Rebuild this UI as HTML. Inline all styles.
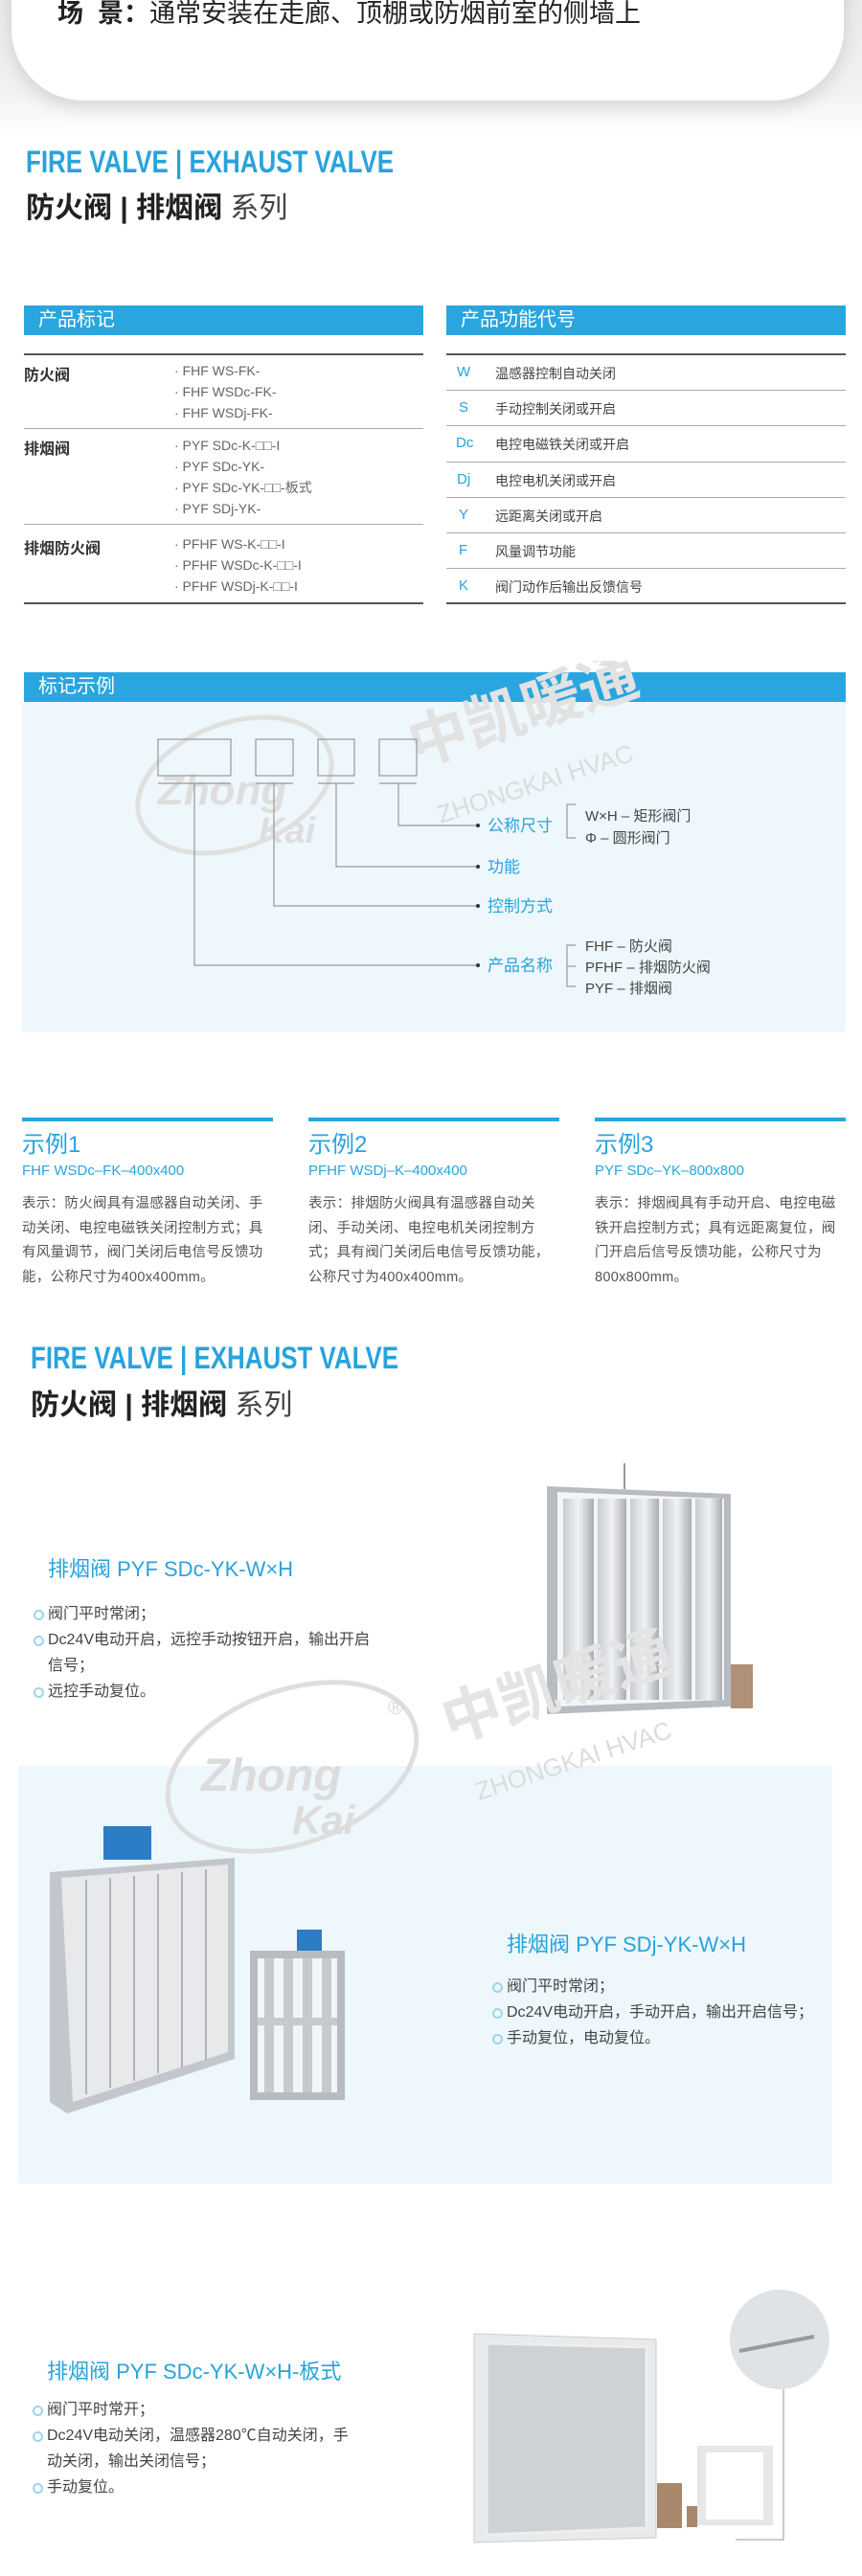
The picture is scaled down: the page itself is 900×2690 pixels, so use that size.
<!DOCTYPE html>
<html><head><meta charset="utf-8"><style>
*{margin:0;padding:0;box-sizing:border-box}
body{width:900px;height:2690px;position:relative;background:#fff;font-family:"Liberation Sans","Noto Sans CJK SC",sans-serif;color:#333;overflow:hidden}
.a{position:absolute;white-space:nowrap}
.t1{font-size:32px;font-weight:bold;color:#29a3dc;transform:scaleX(0.81);transform-origin:left}
.t2{font-size:30px;font-weight:bold;color:#222}
.t2 span{font-weight:normal;color:#444}
.bar{position:absolute;background:#29a6df;color:#fff;font-size:20px;padding-left:15px;line-height:31px;height:31px}
.hl{position:absolute;height:2px;background:#555}
.ln{position:absolute;height:1px;background:#aaa}
.item{font-size:14px;color:#666;line-height:22px}
.lab{font-size:16px;font-weight:bold;color:#333}
.code{font-size:15px;color:#29a3dc}
.desc{font-size:14px;color:#444}
.ex{position:absolute;top:1167px;width:262px;border-top:4px solid #29a6df}
.ex h3{font-weight:normal;font-size:24px;color:#29a3dc;margin-top:10px;line-height:30px}
.ex h4{font-weight:normal;font-size:15px;color:#29a3dc;line-height:20px;margin-top:2px}
.ex p{font-size:14.5px;color:#555;line-height:25.6px;margin-top:12px;white-space:normal;letter-spacing:0.3px}
.pt{font-size:22px;color:#29a3dc}
.bl{font-size:16px;color:#444;line-height:27px}
.dot{display:inline-block;width:11px;height:11px;border:2.5px solid #9fd4ee;border-radius:50%;position:absolute;left:-15px;top:9px}
.bl div{position:relative}
</style></head><body>
<div class="a" style="left:0;top:0;width:900px;height:140px;background:linear-gradient(#e9e9e9,#f2f2f2 70%,#fff)"></div>
<div class="a" style="left:12px;top:-40px;width:869px;height:145px;background:#fff;border-radius:0 0 75px 75px;box-shadow:0 8px 18px rgba(0,0,0,0.12)"></div>
<div class="a" style="left:60px;top:-8px;font-size:27px;color:#222"><b>场 &nbsp;景：</b>通常安装在走廊、顶棚或防烟前室的侧墙上</div>

<div class="a t1" style="left:27px;top:151px">FIRE VALVE | EXHAUST VALVE</div>
<div class="a t2" style="left:27px;top:192px">防火阀 | 排烟阀 <span>系列</span></div>

<div class="bar" style="left:25px;top:319px;width:417px">产品标记</div>
<div class="bar" style="left:466px;top:319px;width:417px">产品功能代号</div>
<div class="hl" style="left:25px;top:369px;width:417px"></div>
<div class="hl" style="left:466px;top:369px;width:417px"></div>
<div class="a lab" style="left:25px;top:378px">防火阀</div>
<div class="a item" style="left:182px;top:376px">· FHF WS-FK-<br>· FHF WSDc-FK-<br>· FHF WSDj-FK-</div>
<div class="ln" style="left:25px;top:447px;width:417px"></div>
<div class="a lab" style="left:25px;top:455px">排烟阀</div>
<div class="a item" style="left:182px;top:454px">· PYF SDc-K-□□-I<br>· PYF SDc-YK-<br>· PYF SDc-YK-□□-板式<br>· PYF SDj-YK-</div>
<div class="ln" style="left:25px;top:547px;width:417px"></div>
<div class="a lab" style="left:25px;top:559px">排烟防火阀</div>
<div class="a item" style="left:182px;top:557px">· PFHF WS-K-□□-I<br>· PFHF WSDc-K-□□-I<br>· PFHF WSDj-K-□□-I</div>
<div class="hl" style="left:25px;top:629px;width:417px"></div>

<div class="ln" style="left:466px;top:407px;width:417px"></div>
<div class="ln" style="left:466px;top:444px;width:417px"></div>
<div class="ln" style="left:466px;top:482px;width:417px"></div>
<div class="ln" style="left:466px;top:519px;width:417px"></div>
<div class="ln" style="left:466px;top:556px;width:417px"></div>
<div class="ln" style="left:466px;top:593px;width:417px"></div>
<div class="hl" style="left:466px;top:629px;width:417px"></div>
<div class="a code" style="left:477px;top:380px">W</div><div class="a desc" style="left:517px;top:380px">温感器控制自动关闭</div>
<div class="a code" style="left:479px;top:417px">S</div><div class="a desc" style="left:517px;top:417px">手动控制关闭或开启</div>
<div class="a code" style="left:476px;top:454px">Dc</div><div class="a desc" style="left:517px;top:454px">电控电磁铁关闭或开启</div>
<div class="a code" style="left:477px;top:492px">Dj</div><div class="a desc" style="left:517px;top:492px">电控电机关闭或开启</div>
<div class="a code" style="left:479px;top:529px">Y</div><div class="a desc" style="left:517px;top:529px">远距离关闭或开启</div>
<div class="a code" style="left:479px;top:566px">F</div><div class="a desc" style="left:517px;top:566px">风量调节功能</div>
<div class="a code" style="left:479px;top:603px">K</div><div class="a desc" style="left:517px;top:603px">阀门动作后输出反馈信号</div>

<div class="bar" style="left:25px;top:702px;width:858px">标记示例</div>
<div class="a" style="left:23px;top:733px;width:860px;height:345px;background:#eef7fc"></div>
<svg class="a" style="left:0;top:690px" width="900" height="400">
<g fill="none" stroke="#e0e0e0" stroke-width="5"><ellipse cx="245" cy="130" rx="105" ry="65" transform="rotate(-20 245 130)"/></g>
<text x="165" y="150" font-size="44" font-style="italic" font-weight="bold" fill="#dedede" font-family="Liberation Sans">Zhong</text>
<text x="270" y="190" font-size="38" font-style="italic" font-weight="bold" fill="#dedede" font-family="Liberation Sans">Kai</text>
<text x="435" y="110" font-size="62" font-weight="bold" fill="#e2e2e2" transform="rotate(-18 435 110)" font-family="Noto Sans CJK SC">中凯暖通</text>
<text x="460" y="170" font-size="26" fill="#dcdcdc" transform="rotate(-18 460 170)" font-family="Liberation Sans">ZHONGKAI HVAC</text>
<g fill="none" stroke="#999" stroke-width="1.2">
<rect x="165" y="82" width="76" height="38"/><rect x="267" y="82" width="39" height="38"/><rect x="332" y="82" width="38" height="38"/><rect x="396" y="82" width="39" height="38"/>
<line x1="165" y1="128" x2="241" y2="128"/><line x1="267" y1="128" x2="306" y2="128"/><line x1="332" y1="128" x2="370" y2="128"/><line x1="396" y1="128" x2="435" y2="128"/>
<polyline points="203,128 203,318 498,318"/><polyline points="286,128 286,256 498,256"/><polyline points="351,128 351,215 498,215"/><polyline points="416,128 416,172 498,172"/>
<polyline points="601,150 592,150 592,185 601,185"/><polyline points="601,297 592,297 592,340 601,340"/><line x1="592" y1="319" x2="601" y2="319"/>
</g>
<g fill="#333"><circle cx="499" cy="172" r="2"/><circle cx="499" cy="215" r="2"/><circle cx="499" cy="256" r="2"/><circle cx="499" cy="318" r="2"/></g>
<g font-size="17" fill="#29a3dc" font-family="Liberation Sans, Noto Sans CJK SC"><text x="509" y="178">公称尺寸</text><text x="509" y="221">功能</text><text x="509" y="262">控制方式</text><text x="509" y="324">产品名称</text></g>
<g font-size="15" fill="#444" font-family="Liberation Sans, Noto Sans CJK SC"><text x="611" y="167">W×H – 矩形阀门</text><text x="611" y="190">Φ – 圆形阀门</text><text x="611" y="303">FHF – 防火阀</text><text x="611" y="325">PFHF – 排烟防火阀</text><text x="611" y="347">PYF – 排烟阀</text></g>
</svg>

<div class="ex" style="left:23px"><h3>示例1</h3><h4>FHF WSDc–FK–400x400</h4><p>表示：防火阀具有温感器自动关闭、手动关闭、电控电磁铁关闭控制方式；具有风量调节，阀门关闭后电信号反馈功能，公称尺寸为400x400mm。</p></div>
<div class="ex" style="left:322px"><h3>示例2</h3><h4>PFHF WSDj–K–400x400</h4><p>表示：排烟防火阀具有温感器自动关闭、手动关闭、电控电机关闭控制方式；具有阀门关闭后电信号反馈功能，公称尺寸为400x400mm。</p></div>
<div class="ex" style="left:621px"><h3>示例3</h3><h4>PYF SDc–YK–800x800</h4><p>表示：排烟阀具有手动开启、电控电磁铁开启控制方式；具有远距离复位，阀门开启后信号反馈功能，公称尺寸为800x800mm。</p></div>

<div class="a t1" style="left:32px;top:1400px">FIRE VALVE | EXHAUST VALVE</div>
<div class="a t2" style="left:32px;top:1442px">防火阀 | 排烟阀 <span>系列</span></div>

<div class="a pt" style="left:50px;top:1621px">排烟阀 PYF SDc-YK-W×H</div>
<div class="a bl" style="left:50px;top:1672px"><div><i class="dot"></i>阀门平时常闭；</div><div><i class="dot"></i>Dc24V电动开启，远控手动按钮开启，输出开启</div><div>信号；</div><div><i class="dot"></i>远控手动复位。</div></div>
<svg class="a" style="left:560px;top:1520px" width="240" height="280">
<defs><linearGradient id="m" x1="0" x2="1"><stop offset="0" stop-color="#c9ccd0"/><stop offset=".5" stop-color="#f1f2f3"/><stop offset="1" stop-color="#a9adb2"/></linearGradient></defs>
<line x1="92" y1="8" x2="92" y2="35" stroke="#999" stroke-width="2"/>
<polygon points="11,32 203,40 203,262 11,270" fill="#b8bcc0"/>
<polygon points="22,38 196,45 196,255 22,262" fill="#f4f5f6"/>
<g fill="url(#m)"><rect x="28" y="45" width="32" height="210"/><rect x="64" y="45" width="30" height="210"/><rect x="98" y="45" width="30" height="210"/><rect x="132" y="45" width="30" height="210"/><rect x="166" y="45" width="28" height="210"/></g>
<rect x="203" y="218" width="23" height="46" fill="#b09078"/>
</svg>

<div class="a" style="left:19px;top:1844px;width:850px;height:436px;background:#eef7fc"></div>
<svg class="a" style="left:0;top:1700px" width="900" height="260">
<g fill="none" stroke="#dedede" stroke-width="5"><ellipse cx="305" cy="145" rx="135" ry="80" transform="rotate(-20 305 145)"/></g>
<text x="210" y="170" font-size="48" font-style="italic" font-weight="bold" fill="#dcdcdc" font-family="Liberation Sans">Zhong</text>
<text x="305" y="215" font-size="42" font-style="italic" font-weight="bold" fill="#dcdcdc" font-family="Liberation Sans">Kai</text>
<text x="470" y="120" font-size="62" font-weight="bold" fill="#e4e4e4" transform="rotate(-18 470 120)" font-family="Noto Sans CJK SC">中凯暖通</text>
<text x="500" y="180" font-size="26" fill="#dcdcdc" transform="rotate(-18 500 180)" font-family="Liberation Sans">ZHONGKAI HVAC</text>
<text x="405" y="90" font-size="22" fill="#d8d8d8">®</text>
</svg>
<svg class="a" style="left:40px;top:1895px" width="340" height="320">
<rect x="68" y="12" width="50" height="35" fill="#2d7cc6"/>
<polygon points="12,60 205,45 205,255 30,312 12,300" fill="#c3c7cb"/>
<polygon points="24,66 198,52 198,248 36,300" fill="#e7e9eb"/>
<g stroke="#b0b4b8" stroke-width="2"><line x1="50" y1="68" x2="50" y2="292"/><line x1="75" y1="66" x2="75" y2="285"/><line x1="100" y1="64" x2="100" y2="278"/><line x1="125" y1="62" x2="125" y2="270"/><line x1="150" y1="60" x2="150" y2="264"/><line x1="175" y1="57" x2="175" y2="256"/></g>
<rect x="270" y="120" width="26" height="22" fill="#2d7cc6"/>
<rect x="221" y="142" width="99" height="156" fill="#b8bcc0"/>
<rect x="229" y="150" width="83" height="140" fill="#f3f4f5"/>
<g fill="#c6c9cd"><rect x="236" y="150" width="10" height="140"/><rect x="256" y="150" width="10" height="140"/><rect x="276" y="150" width="10" height="140"/><rect x="296" y="150" width="10" height="140"/><rect x="229" y="212" width="83" height="8"/></g>
</svg>
<div class="a pt" style="left:529px;top:2013px">排烟阀 PYF SDj-YK-W×H</div>
<div class="a bl" style="left:529px;top:2061px"><div><i class="dot"></i>阀门平时常闭；</div><div><i class="dot"></i>Dc24V电动开启，手动开启，输出开启信号；</div><div><i class="dot"></i>手动复位，电动复位。</div></div>

<div class="a pt" style="left:49px;top:2459px">排烟阀 PYF SDc-YK-W×H-板式</div>
<div class="a bl" style="left:49px;top:2503px"><div><i class="dot"></i>阀门平时常开；</div><div><i class="dot"></i>Dc24V电动关闭，温感器280℃自动关闭，手</div><div>动关闭，输出关闭信号；</div><div><i class="dot"></i>手动复位。</div></div>
<svg class="a" style="left:490px;top:2385px" width="390" height="280">
<polygon points="5,52 195,58 195,265 5,270" fill="#e9eaeb" stroke="#ccc"/>
<polygon points="18,62 185,66 185,255 18,262" fill="#cfd2d4" stroke="#eee" stroke-width="3"/>
<circle cx="324" cy="58" r="52" fill="#dfe3e6"/>
<line x1="282" y1="70" x2="360" y2="55" stroke="#999" stroke-width="4"/>
<polyline points="328,110 328,267 278,267" fill="none" stroke="#999" stroke-width="1"/>
<rect x="196" y="208" width="26" height="47" fill="#a8876a"/>
<rect x="238" y="169" width="79" height="83" fill="#e5e7e9"/>
<rect x="247" y="176" width="60" height="70" fill="#fff"/>
<rect x="227" y="232" width="11" height="22" fill="#a8876a"/>
</svg>
</body></html>
